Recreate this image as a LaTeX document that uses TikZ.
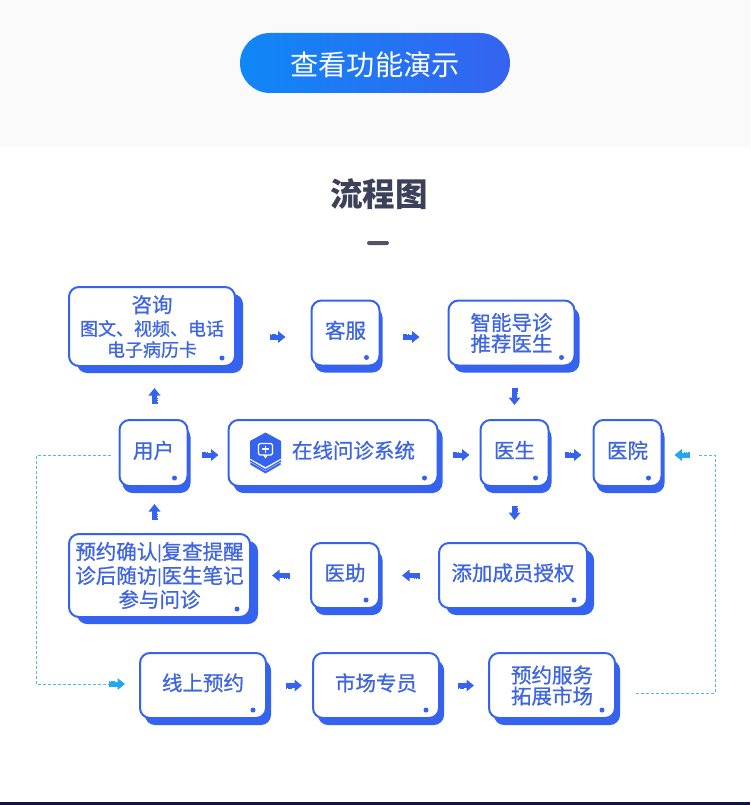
\documentclass[tikz,border=0pt]{standalone}
\usepackage{fontspec}
\setmainfont{Noto Sans CJK SC}
\newfontfamily\blockfont[FakeBold=0.9]{Noto Sans CJK SC}
\newcommand{\sepbar}{\raisebox{1.5pt}{\fontsize{16}{16}\selectfont|}}
\usetikzlibrary{arrows.meta}
\usetikzlibrary{shadows}
\usetikzlibrary{positioning}
\definecolor{boxblue}{HTML}{3563F0}
\definecolor{textblue}{HTML}{3F66E0}
\definecolor{skyblue}{HTML}{22A7F0}
\definecolor{dashblue}{HTML}{55BBDD}
\definecolor{titlegray}{HTML}{3C4059}
\definecolor{bandgray}{HTML}{FAFAFB}
\definecolor{footnavy}{HTML}{12153F}
\definecolor{pillblue}{HTML}{0F87F7}
\tikzset{
  % Common styles for the chart
  block/.style={draw=boxblue, fill=white, line width=2pt, rounded corners=10pt, align=center, inner sep=0pt,
    text=textblue, font=\blockfont\fontsize{20.5}{21}\selectfont,
    general shadow={shadow xshift=#1, shadow yshift=-7pt, fill=boxblue}},
  block/.default=5pt,
  lifted/.style={text depth=7pt},
  dotmark/.style={circle, fill=boxblue, minimum size=5pt, inner sep=0pt},
  flow/.style={draw=boxblue, fill=boxblue, line width=5pt,
    {Rectangle[width=5.5pt,length=1.3pt,sep=.8pt]Rectangle[width=5.5pt,length=1.3pt,sep=.8pt]Rectangle[width=5.5pt,length=1.3pt,sep=.8pt]}-{Triangle[width=11.5pt,length=7.5pt]}},
  flowsky/.style={flow, draw=skyblue, fill=skyblue},
  link/.style={draw=dashblue, line width=1pt, dash pattern=on 3pt off 2pt}
}
\begin{document}
\begin{tikzpicture}[x=1pt, y=-1pt]
    \useasboundingbox (0,0) rectangle (750,805);
    % Background
    \fill[bandgray] (0,0) rectangle (750,147);
    \fill[footnavy] (0,802) rectangle (750,805);

    % Heading
    \node [rounded corners=30pt, left color=pillblue, right color=boxblue, minimum width=270pt, minimum height=60pt, inner sep=0pt,
      text=white, text height=28pt, font=\fontsize{28.2}{28}\selectfont] (demo) at (375,63) {查看功能演示};
    \node [text=titlegray, font=\fontsize{32.5}{33}\selectfont\bfseries] (title) at (379,194) {流程图};
    \node [fill=titlegray!90, rounded corners=2pt, minimum width=22pt, minimum height=4pt, inner sep=0pt] (bar) at (378,243) {};

    % Place nodes
    \node [block=8pt, minimum width=166pt, minimum height=79pt] (zixun) at (152,326.5) {{\fontsize{20.5}{24}\selectfont 咨询}\\[2pt]
      \fontsize{18}{22}\selectfont 图文、视频、电话\\\fontsize{18}{22}\selectfont 电子病历卡};
    \node [block=3pt, lifted, minimum width=68pt, minimum height=65pt] (kefu) at (345.5,333) {客服};
    \node [block, minimum width=126pt, minimum height=65pt, right=67pt of kefu] (zhineng) {智能导诊\\推荐医生};
    \node [block=3pt, lifted, minimum width=68pt, minimum height=66pt] (yonghu) at (153.5,453) {用户};
    \node [block, lifted, minimum width=209pt, minimum height=66pt, right=39pt of yonghu] (zaixian) {\hspace*{41pt}在线问诊系统};
    \node [block=3pt, lifted, minimum width=68pt, minimum height=66pt, right=41pt of zaixian] (yisheng) {医生};
    \node [block=3pt, lifted, minimum width=68pt, minimum height=66pt, right=43pt of yisheng] (yiyuan) {医院};
    \node [block=7pt, lifted, minimum width=148pt, minimum height=65pt] (tianjia) at (513,575.5) {添加成员授权};
    \node [block=3.5pt, lifted, minimum width=68pt, minimum height=65pt, left=58pt of tianjia] (yizhu) {医助};
    \node [block=8pt, minimum width=181pt, minimum height=83pt, left=59pt of yizhu, font=\blockfont\fontsize{20.5}{24}\selectfont] (yuyue) {预约确认\sepbar 复查提醒\\诊后随访\sepbar 医生笔记\\参与问诊};
    \node [block, lifted, minimum width=126pt, minimum height=65pt] (xianshang) at (203,685.5) {线上预约};
    \node [block, lifted, minimum width=126pt, minimum height=65pt, right=45pt of xianshang] (shichang) {市场专员};
    \node [block, minimum width=126pt, minimum height=65pt, right=48pt of shichang] (fuwu) {预约服务\\拓展市场};

    % Dots in the box corners
    \foreach \n in {zixun,kefu,zhineng,yonghu,zaixian,yisheng,yiyuan,tianjia,yizhu,yuyue,xianshang,shichang,fuwu}
        \node [dotmark] (\n dot) at ([xshift=-14pt,yshift=9pt]\n.south east) {};

    % Icon
    \begin{scope}[shift={(265.5,448)}]
        \draw [white, fill=boxblue, line width=.7pt] (-15.5,13.5) -- (0,22.5) -- (15.5,13.5) -- (15.5,17) -- (0,26) -- (-15.5,17) -- cycle;
        \fill [boxblue] (-15.5,12) -- (0,21) -- (15.5,12) -- (15.5,13.5) -- (0,22.5) -- (-15.5,13.5) -- cycle;
        \fill [boxblue] (0,-15.5) -- (15.5,-7) -- (15.5,10.5) -- (0,19) -- (-15.5,10.5) -- (-15.5,-7) -- cycle;
        \draw [white, line width=1.3pt, rounded corners=1.5pt] (-7,-4.5) rectangle (7,7);
        \fill [white] (-2.5,7) -- (0,10.5) -- (2.5,7) -- cycle;
        \draw [white, line width=1.4pt] (-3.5,1) -- (3.5,1) (0,-2.5) -- (0,4.5);
    \end{scope}

    % Draw edges
    \draw [flow, shorten <=33pt, shorten >=25pt] (zixun.east |- 0,337) -- (kefu.west |- 0,337);
    \draw [flow, shorten <=22pt, shorten >=28pt] (kefu.east |- 0,337) -- (zhineng.west |- 0,337);
    \draw [flow, shorten <=21pt, shorten >=14pt] (yisheng |- zhineng.south) -- (yisheng.north);
    \draw [flow, shorten <=13pt, shorten >=9pt] ([yshift=-2pt]yonghu.east) -- ([yshift=-2pt]zaixian.west);
    \draw [flow, shorten <=14pt, shorten >=10pt] ([yshift=-2pt]zaixian.east) -- ([yshift=-2pt]yisheng.west);
    \draw [flow, shorten <=15pt, shorten >=11pt] ([yshift=-2pt]yisheng.east) -- ([yshift=-2pt]yiyuan.west);
    \draw [flow, shorten <=18pt, shorten >=22pt] (yisheng.south) -- (yisheng |- tianjia.north);
    \draw [flow, shorten <=18pt, shorten >=22pt] (tianjia.west) -- (yizhu.east);
    \draw [flow, shorten <=20pt, shorten >=21pt] (yizhu.west) -- (yuyue.east);
    \draw [flow, shorten <=13pt, shorten >=17pt] ([xshift=1pt]yonghu |- yuyue.north) -- ([xshift=1pt]yonghu.south);
    \draw [flow, shorten <=15pt, shorten >=21pt] ([xshift=1pt]yonghu.north) -- ([xshift=1pt]yonghu |- zixun.south);
    \draw [flow, shorten <=18pt, shorten >=10pt] (xianshang.east) -- (shichang.west);
    \draw [flow, shorten <=17pt, shorten >=14pt] (shichang.east) -- (fuwu.west);

    % Dashed return lines
    \coordinate (leftin) at (36,684);
    \coordinate (leftout) at (36,455);
    \coordinate (rightout) at (715,693);
    \coordinate (rightin) at (715,455);
    \draw [link, shorten <=8pt, shorten >=31pt] ([yshift=-2pt]yonghu.west) -- (leftout) -- (leftin) -- (leftin -| xianshang.west);
    \draw [flowsky, shorten <=72pt, shorten >=14pt] (leftin) -- (leftin -| xianshang.west);
    \draw [link, shorten <=20pt, shorten >=36pt] (fuwu.east |- rightout) -- (rightout) -- (rightin) -- (rightin -| yiyuan.east);
    \draw [flowsky, shorten <=25pt, shorten >=12pt] (rightin) -- (rightin -| yiyuan.east);
\end{tikzpicture}
\end{document}
